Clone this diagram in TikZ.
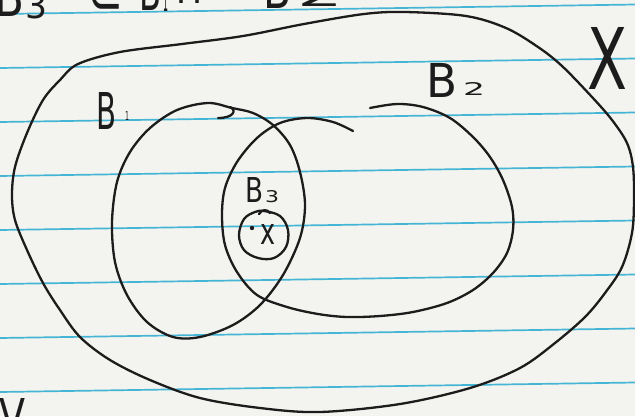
\documentclass[tikz,border=0pt]{standalone}
\usepackage{graphicx}
\usepackage{fontspec}
\setmainfont{DejaVu Sans}
\definecolor{paper}{HTML}{F3F3EF}
\definecolor{inkc}{HTML}{1C1C1C}
\definecolor{rulec}{HTML}{45B5D6}
\begin{document}
\begin{tikzpicture}[x=1pt,y=-1pt,
  ink/.style={draw=inkc, line width=2.3pt, line cap=round, line join=round},
  ruleline/.style={draw=rulec, line width=1.7pt},
  glyph/.style={inner sep=0pt, outer sep=0pt, text=inkc}]
\fill[paper] (0,0) rectangle (635,416);
\useasboundingbox (0,0) rectangle (635,416);
\begin{scope}
\clip (0,0) rectangle (635,416);
% notebook rules
\foreach \i in {0,...,7}
  \draw[ruleline] (0,{14+54*\i}) -- (635,{4.5+54*\i});
% cut-off heading  B3 \subset B1 \cap B2
\node[glyph] (hB3) at (10,-4) {\resizebox{30pt}{40pt}{B}};
\node[glyph] (h3) at (37,6) {\resizebox{22pt}{26pt}{3}};
\node[glyph] (hsub) at (105,-4) {\resizebox{36pt}{36pt}{⊂}};
\node[glyph] (hB1) at (151,-10) {\resizebox{22pt}{40pt}{B}};
\node[glyph] (h1) at (166,0) {\resizebox{5pt}{22pt}{1}};
\node[glyph] (hcap) at (190,-15) {\resizebox{30pt}{36pt}{∩}};
\node[glyph] (hB2) at (277,-12) {\resizebox{28pt}{40pt}{B}};
\node[glyph] (h2) at (321,-6) {\resizebox{46pt}{24pt}{2}};
% cut-off letter at bottom left
\node[glyph] (vbot) at (13,416) {\resizebox{26pt}{36pt}{V}};
% outer set X
\draw[ink] plot[smooth cycle, tension=0.55] coordinates {
 (78,64) (120,52) (182,44) (243,36) (304,24) (364,14) (405,12) (466,16)
 (506,28) (538,47) (562,66) (592,97) (612,120) (627,143) (633,167) (634,200)
 (632,233) (622,267) (605,293) (585,317) (555,343) (520,368) (470,388)
 (400,404) (320,412) (260,408) (200,398) (150,380) (110,360) (80,337)
 (60,310) (43,283) (27,250) (15,220) (12,195) (15,167) (27,133) (43,100) (60,80)};
% B1
\draw[ink] plot[smooth cycle, tension=0.55] coordinates {
 (208,103) (177,110) (150,128) (130,152) (117,182) (112,222) (115,262)
 (127,295) (147,322) (173,337) (200,337) (233,325) (260,305) (283,275)
 (300,238) (305,205) (300,172) (290,145) (273,125) (253,113) (232,108)};
\draw[ink] (230,107) .. controls (237,110) and (234,118) .. (218,118);
% B2 (open at the top)
\draw[ink] plot[smooth, tension=0.55] coordinates {
 (370,108) (397,104) (423,107) (450,118) (473,137) (490,157) (503,180)
 (512,207) (513,230) (507,253) (493,273) (473,290) (447,303) (413,312)
 (380,316) (347,317) (318,314) (287,307) (257,295) (237,272) (225,245)
 (222,215) (225,188) (237,162) (257,138) (280,123) (307,118) (333,122) (353,131)};
% B3 (small loop around x)
\draw[ink] plot[smooth cycle, tension=0.6] coordinates {
 (264,211) (280,216) (288,230) (286,247) (274,258) (258,258) (244,250)
 (239,235) (244,219) (255,212)};
\draw[ink] (259,214) .. controls (262,209) and (267,209) .. (270,213);
% point x
\fill[inkc] (252,228) circle (2.2pt);
\node[glyph] (px) at (268,234) {\resizebox{15pt}{20pt}{x}};
% labels
\node[glyph] (lB1) at (107,111) {\resizebox{20pt}{37pt}{B}};
\node[glyph] (l1) at (127,116) {\resizebox{4pt}{9pt}{1}};
\node[glyph] (lB2) at (442,80) {\resizebox{31pt}{34pt}{B}};
\node[glyph] (l2) at (474,89) {\resizebox{22pt}{13pt}{2}};
\node[glyph] (lB3) at (254,190) {\resizebox{18pt}{25pt}{B}};
\node[glyph] (l3) at (272,197) {\resizebox{14pt}{12pt}{3}};
\node[glyph] (lX) at (608,58) {\resizebox{40pt}{62pt}{X}};
\end{scope}
\end{tikzpicture}
\end{document}
